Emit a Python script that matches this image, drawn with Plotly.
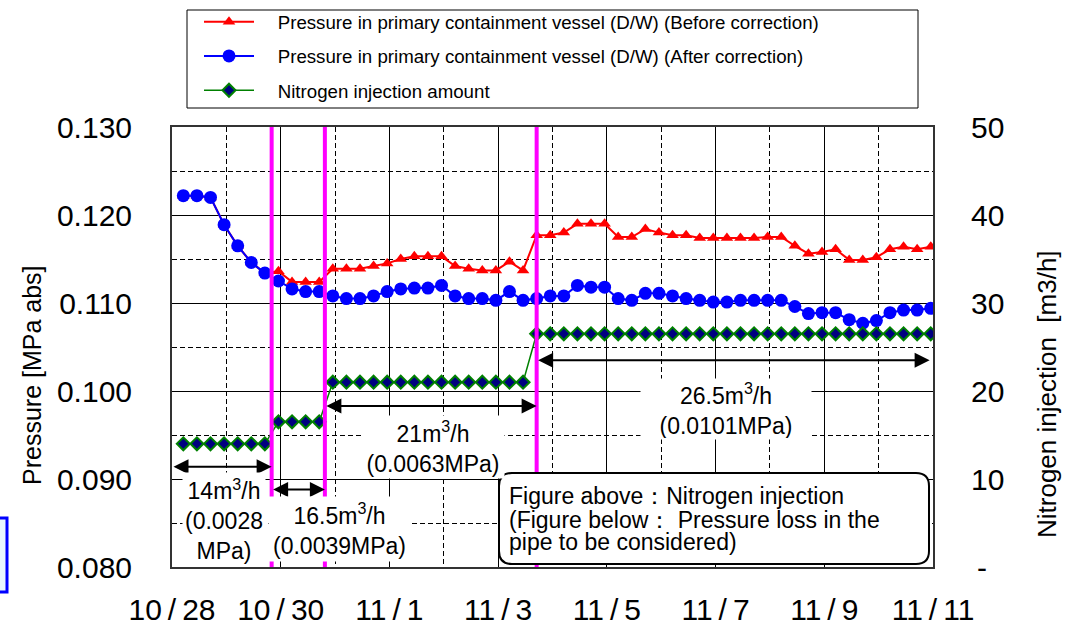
import plotly.graph_objects as go
import pandas as pd

# ---------------- data ----------------
DAYS = pd.date_range("2011-10-28", "2011-11-10", freq="D")
HOURS = [5, 11, 17, 23]
TIMES = [d + pd.Timedelta(hours=h) for d in DAYS for h in HOURS]

P_BEFORE = [0.1222, 0.1222, 0.1220, 0.1189, 0.1165, 0.1146, 0.1134,
            0.1136, 0.1124, 0.1124, 0.1124, 0.1139, 0.1139, 0.1139,
            0.1142, 0.1145, 0.1150, 0.1153, 0.1153, 0.1153, 0.1142,
            0.1139, 0.1137, 0.1137, 0.1147, 0.1137, 0.1177, 0.1177,
            0.1180, 0.1190, 0.1190, 0.1190, 0.1175, 0.1175, 0.1184,
            0.1180, 0.1177, 0.1177, 0.1174, 0.1174, 0.1174, 0.1174,
            0.1174, 0.1175, 0.1175, 0.1165, 0.1156, 0.1158, 0.1161,
            0.1149, 0.1149, 0.1152, 0.1161, 0.1164, 0.1161, 0.1164]

P_AFTER = [0.1222, 0.1222, 0.1220, 0.1189, 0.1165, 0.1146, 0.1134,
           0.1125, 0.1116, 0.1113, 0.1113, 0.1108, 0.1105, 0.1105,
           0.1108, 0.1113, 0.1116, 0.1117, 0.1117, 0.1120, 0.1108,
           0.1105, 0.1105, 0.1103, 0.1113, 0.1103, 0.1105, 0.1108,
           0.1108, 0.1120, 0.1118, 0.1118, 0.1105, 0.1103, 0.1111,
           0.1111, 0.1108, 0.1105, 0.1103, 0.1101, 0.1101, 0.1103,
           0.1103, 0.1103, 0.1103, 0.1096, 0.1088, 0.1089, 0.1089,
           0.1081, 0.1077, 0.1080, 0.1089, 0.1092, 0.1092, 0.1094]

N2_FLOW = [14] * 7 + [16.5] * 4 + [21] * 15 + [26.5] * 30

SERIES_NAMES = ["Pressure in primary containment vessel (D/W) (Before correction)",
                "Pressure in primary containment vessel (D/W) (After correction)",
                "Nitrogen injection amount"]

CHANGE_TIMES = ["2011-10-29 20:00", "2011-10-30 19:30", "2011-11-03 17:00"]
X_TICKS = ["2011-10-28", "2011-10-30", "2011-11-01", "2011-11-03",
           "2011-11-05", "2011-11-07", "2011-11-09", "2011-11-11"]
X_LABELS = ["10/28", "10/30", "11/1", "11/3", "11/5", "11/7", "11/9", "11/11"]
X_MINOR = ["2011-10-29", "2011-10-31", "2011-11-02", "2011-11-04",
           "2011-11-06", "2011-11-08", "2011-11-10"]
Y2_TICKS = [0, 10, 20, 30, 40, 50]
Y2_LABELS = ["\u2009-", "10", "20", "30", "40", "50"]

FONT = "Arial, Liberation Sans, sans-serif"

# ---------------- geometry helpers (pixel -> paper) ----------------
W, H = 1071, 626
PL, PR, PT, PB = 172, 933, 127, 567


def px(x):
    return (x - PL) / (PR - PL)


def py(y):
    return (PB - y) / (PB - PT)


fig = go.Figure()

fig.add_trace(go.Scatter(
    x=TIMES, y=P_BEFORE, name="\u2003" + SERIES_NAMES[0], legendgroup="a",
    mode="lines+markers", line=dict(color="#FF0000", width=2),
    marker=dict(symbol="triangle-up", size=11, color="#FF0000")))
fig.add_trace(go.Scatter(
    x=TIMES, y=P_AFTER, name="\u2003" + SERIES_NAMES[1], legendgroup="b",
    mode="lines+markers", line=dict(color="#0000FF", width=2),
    marker=dict(symbol="circle", size=13, color="#0000FF")))
fig.add_trace(go.Scatter(
    x=TIMES, y=N2_FLOW, name="\u2003" + SERIES_NAMES[2], legendgroup="c",
    yaxis="y2",
    mode="lines+markers", line=dict(color="#008000", width=1.5),
    marker=dict(symbol="diamond", size=10, color="#000080",
                line=dict(color="#008000", width=2))))

shapes = []
for t in CHANGE_TIMES:
    shapes.append(dict(type="line", xref="x", yref="paper", x0=t, x1=t,
                       y0=0, y1=1, line=dict(color="#FF00FF", width=4),
                       layer="above"))


def rrect(x0, y0, x1, y1, r):
    def P(x, y):
        return f"{px(x):.5f},{py(y):.5f}"
    return (f"M{P(x0 + r, y0)} L{P(x1 - r, y0)} Q{P(x1, y0)} {P(x1, y0 + r)} "
            f"L{P(x1, y1 - r)} Q{P(x1, y1)} {P(x1 - r, y1)} "
            f"L{P(x0 + r, y1)} Q{P(x0, y1)} {P(x0, y1 - r)} "
            f"L{P(x0, y0 + r)} Q{P(x0, y0)} {P(x0 + r, y0)} Z")


shapes.append(dict(type="path", xref="paper", yref="paper",
                   path=rrect(499, 473, 929, 564, 13),
                   fillcolor="white", line=dict(color="black", width=2),
                   layer="above"))
# legend frame
shapes.append(dict(type="rect", xref="paper", yref="paper",
                   x0=px(187), x1=px(918), y0=py(10), y1=py(108),
                   line=dict(color="black", width=1), fillcolor="rgba(0,0,0,0)"))
# blue fragment bottom-left
shapes.append(dict(type="rect", xref="paper", yref="paper",
                   x0=px(-8), x1=px(7), y0=py(518), y1=py(592),
                   line=dict(color="#0000FF", width=3), fillcolor="#EAF8FF"))

annotations = []

arrows = [
    ("2011-10-28 00:00", CHANGE_TIMES[0], 0.0914),
    (CHANGE_TIMES[0], CHANGE_TIMES[1], 0.0888),
    (CHANGE_TIMES[1], CHANGE_TIMES[2], 0.0983),
    (CHANGE_TIMES[2], "2011-11-10 22:30", 0.1035),
]
for a0, a1, yv in arrows:
    annotations.append(dict(x=a1, y=yv, ax=a0, ay=yv, xref="x", yref="y",
                            axref="x", ayref="y", text="", showarrow=True,
                            arrowhead=2, arrowside="end+start", arrowsize=1.5,
                            arrowwidth=2, arrowcolor="black", standoff=0,
                            startstandoff=0))

labels = [
    ("14m<sup>3</sup>/h<br>(0.0028<br>MPa)", 224, 519, 80, 91),
    ("16.5m<sup>3</sup>/h<br>(0.0039MPa)", 339, 529, 139, 62),
    ("21m<sup>3</sup>/h<br>(0.0063MPa)", 433, 447, 140, 60),
    ("26.5m<sup>3</sup>/h<br>(0.0101MPa)", 726, 409, 168, 58),
]
for txt, cx, cy, w, h in labels:
    annotations.append(dict(x=px(cx), y=py(cy), xref="paper", yref="paper",
                            text=txt, showarrow=False, bgcolor="white",
                            width=w, height=h, align="center",
                            xanchor="center", yanchor="middle",
                            font=dict(family=FONT, size=23, color="black")))

box_lines = [("Figure above\uff1aNitrogen injection", 496),
             ("(Figure below\uff1a Pressure loss in the", 520),
             ("pipe to be considered)", 542)]
for txt, cy in box_lines:
    annotations.append(dict(x=px(507), y=py(cy), xref="paper", yref="paper",
                            text=txt, showarrow=False, xanchor="left",
                            yanchor="middle",
                            font=dict(family=FONT, size=23, color="black")))

annotations.append(dict(x=px(32), y=py(375), xref="paper", yref="paper",
                        text="Pressure [MPa abs]", textangle=-90,
                        showarrow=False, xanchor="center", yanchor="middle",
                        font=dict(family=FONT, size=25, color="black")))
annotations.append(dict(x=px(1047), y=py(394), xref="paper", yref="paper",
                        text="Nitrogen injection\u00a0\u00a0[m3/h]", textangle=-90,
                        showarrow=False, xanchor="center", yanchor="middle",
                        font=dict(family=FONT, size=26, color="black")))

fig.update_layout(
    template="none",
    width=W, height=H, autosize=False,
    margin=dict(l=PL, r=W - PR, t=PT, b=H - PB, pad=0, autoexpand=False),
    paper_bgcolor="white", plot_bgcolor="white",
    font=dict(family=FONT, color="black"),
    showlegend=True,
    legend=dict(x=px(199), y=py(3), xanchor="left", yanchor="top",
                bgcolor="rgba(0,0,0,0)", borderwidth=0,
                font=dict(family=FONT, size=18.7, color="black"),
                itemwidth=50, tracegroupgap=7, traceorder="grouped"),
    xaxis=dict(type="date", range=["2011-10-28", "2011-11-11"],
               tickmode="array", tickvals=X_TICKS,
               ticktext=[s.replace("/", "\u2009/\u2009") for s in X_LABELS],
               tickfont=dict(size=30, family=FONT),
               showgrid=True, gridcolor="black", gridwidth=1,
               minor=dict(tickmode="array", tickvals=X_MINOR, showgrid=True,
                          gridcolor="black", gridwidth=1, griddash="5px,3px"),
               showline=True, mirror=True, linecolor="#333333", linewidth=2,
               ticks="", ticklabelstandoff=15, zeroline=False,
               automargin=False),
    yaxis=dict(range=[0.080, 0.130], tick0=0.08, dtick=0.01, tickformat=".3f",
               tickfont=dict(size=30, family=FONT),
               showgrid=True, gridcolor="black", gridwidth=1,
               minor=dict(tick0=0.08, dtick=0.005, showgrid=True,
                          gridcolor="black", gridwidth=1, griddash="5px,3px"),
               showline=True, mirror=True, linecolor="#333333", linewidth=2,
               ticks="", ticklabelstandoff=32, zeroline=False,
               automargin=False),
    yaxis2=dict(range=[0, 50], overlaying="y", side="right",
                tickmode="array", tickvals=Y2_TICKS, ticktext=Y2_LABELS,
                tickfont=dict(size=30, family=FONT), showgrid=False,
                zeroline=False, showline=False, ticks="",
                ticklabelstandoff=37, automargin=False),
    shapes=shapes,
    annotations=annotations,
)

fig.write_html("out.html",
               config={"displayModeBar": False},
               post_script="document.body.style.margin='0';"
                           "document.body.style.overflow='hidden';")
